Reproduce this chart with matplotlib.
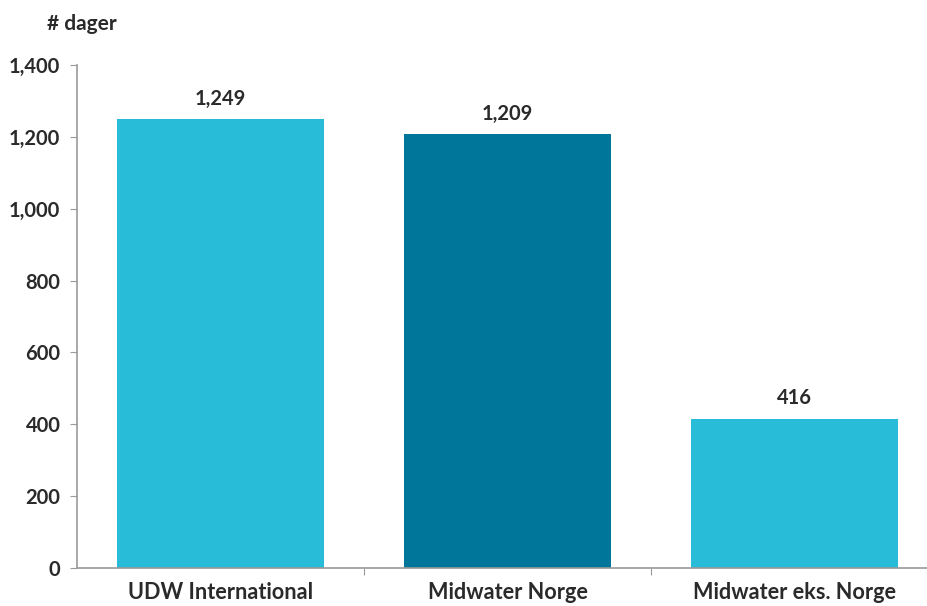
import matplotlib.pyplot as plt

# Data
categories = ['UDW International', 'Midwater Norge', 'Midwater eks. Norge']
values = [1249, 1209, 416]
value_labels = ['1,249', '1,209', '416']
colors = ['#29bcd8', '#00769a', '#29bcd8']
yticks = [0, 200, 400, 600, 800, 1000, 1200, 1400]
ytick_labels = ['0', '200', '400', '600', '800', '1,000', '1,200', '1,400']

plt.rcParams['font.family'] = ['Lato', 'DejaVu Sans']

fig = plt.figure(figsize=(9.28, 6.06), dpi=100)
ax = fig.add_axes([77/928, 38/606, (928-77)/928, 503/606])

x = range(len(categories))
ax.bar(x, values, width=0.72, color=colors)

for i, v in enumerate(values):
    ax.text(i, v + 28, value_labels[i], ha='center', va='bottom',
            fontsize=14.5, fontweight='bold', color='#2a2a2a')

ax.set_xlim(-0.5, 2.465)
ax.set_ylim(0, 1400)
ax.set_yticks(yticks)
ax.set_yticklabels(ytick_labels)
ax.set_xticks([0.5, 1.5], minor=False)
ax.set_xticklabels(['', ''])
ax.set_xticks(list(x), minor=True)
ax.set_xticklabels(categories, minor=True)
ax.tick_params(axis='x', which='minor', length=0, pad=10, labelsize=15.6)
ax.tick_params(axis='x', which='major', length=5, color='#999999', direction='out')
ax.tick_params(axis='y', length=5, color='#999999', pad=7, labelsize=14.5)
for lab in ax.get_yticklabels() + ax.get_xticklabels(minor=True):
    lab.set_fontweight('bold')
    lab.set_color('#2a2a2a')

for s in ['top', 'right']:
    ax.spines[s].set_visible(False)
for s in ['left', 'bottom']:
    ax.spines[s].set_color('#999999')
    ax.spines[s].set_linewidth(1.2)

fig.text(47/928, 1 - 24/606, '# dager', fontsize=15, fontweight='bold',
         color='#2a2a2a', va='center', ha='left')

fig.savefig('out.png', dpi=100)
